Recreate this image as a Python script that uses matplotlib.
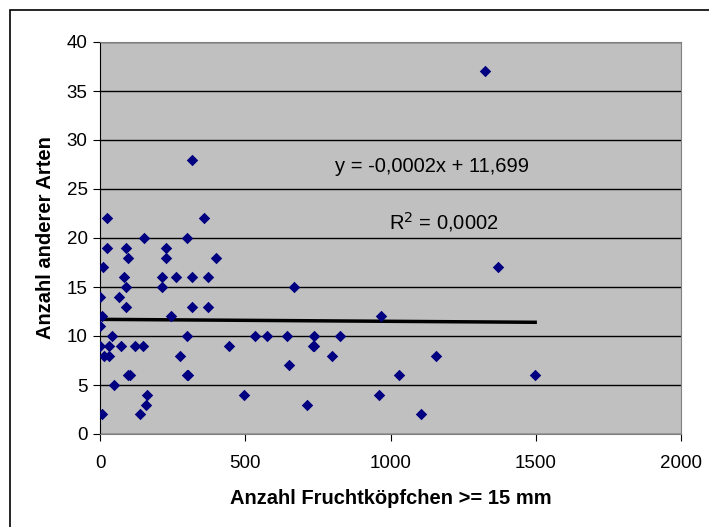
import numpy as np
import matplotlib.pyplot as plt
from matplotlib.patches import Rectangle

plt.rcParams['font.family'] = ['Liberation Sans', 'DejaVu Sans']

# Werte
fruchtkoepfchen = [1325, 316, 25, 359, 152, 300, 25, 90, 227, 95, 227, 400,
                   1369, 11, 84, 212, 261, 316, 373, 90, 212, 668, 0, 65,
                   90, 316, 373, 6, 245, 967, 0, 40, 298, 534, 574, 642,
                   736, 825, 0, 31, 74, 122, 148, 445, 733, 738, 14, 31,
                   274, 799, 1157, 651, 96, 103, 298, 304, 1030, 1498, 48,
                   162, 494, 962, 158, 711, 6, 137, 1104]
andere_arten = [37, 28, 22, 22, 20, 20, 19, 19, 19, 18, 18, 18,
                17, 17, 16, 16, 16, 16, 16, 15, 15, 15, 14, 14,
                13, 13, 13, 12, 12, 12, 11, 10, 10, 10, 10, 10,
                10, 10, 9, 9, 9, 9, 9, 9, 9, 9, 8, 8,
                8, 8, 8, 7, 6, 6, 6, 6, 6, 6, 5,
                4, 4, 4, 3, 3, 2, 2, 2]

# Trendlinie laut Beschriftung
steigung = -0.0002
achsenabschnitt = 11.699
x_ticks = [0, 500, 1000, 1500, 2000]
y_ticks = [0, 5, 10, 15, 20, 25, 30, 35, 40]

fig = plt.figure(figsize=(7.09, 5.27), dpi=100)
fig.patches.append(Rectangle((10 / 709, -0.01), 1.0, 1 - 10 / 527 + 0.01,
                             transform=fig.transFigure, fill=False,
                             edgecolor='black', linewidth=1.2))

ax = fig.add_axes([100 / 709, 1 - 434 / 527, 581 / 709, 392 / 527])
ax.set_facecolor('#C0C0C0')
ax.set_xlim(0, 2000)
ax.set_ylim(0, 40)
ax.set_xticks(x_ticks)
ax.set_yticks(y_ticks)
ax.yaxis.grid(True, color='black', linewidth=1)
ax.set_axisbelow(True)

for s in ['top', 'right', 'bottom']:
    ax.spines[s].set_color('#808080')
ax.spines['left'].set_color('black')
ax.tick_params(axis='both', direction='out', length=5, labelsize=13.5,
               color='black')
ax.tick_params(axis='x', pad=10)
ax.tick_params(axis='y', pad=4)

ax.scatter(fruchtkoepfchen, andere_arten, marker='D', s=34, color='#000080',
           zorder=3, linewidths=0)

xs = np.array([0, max(fruchtkoepfchen)])
ax.plot(xs, steigung * xs + achsenabschnitt, color='black', linewidth=2.5,
        zorder=2)

ax.text(1477, 27.3, 'y = -0,0002x + 11,699', fontsize=14.5, ha='right',
        va='center')
ax.text(1373, 21.6, 'R$^2$ = 0,0002', fontsize=14.5, ha='right',
        va='center')

ax.set_xlabel('Anzahl Fruchtköpfchen >= 15 mm', fontsize=14.5,
              fontweight='bold', labelpad=12)
ax.set_ylabel('Anzahl anderer Arten', fontsize=14.5, fontweight='bold',
              labelpad=8)

fig.savefig('out.png', dpi=100)
